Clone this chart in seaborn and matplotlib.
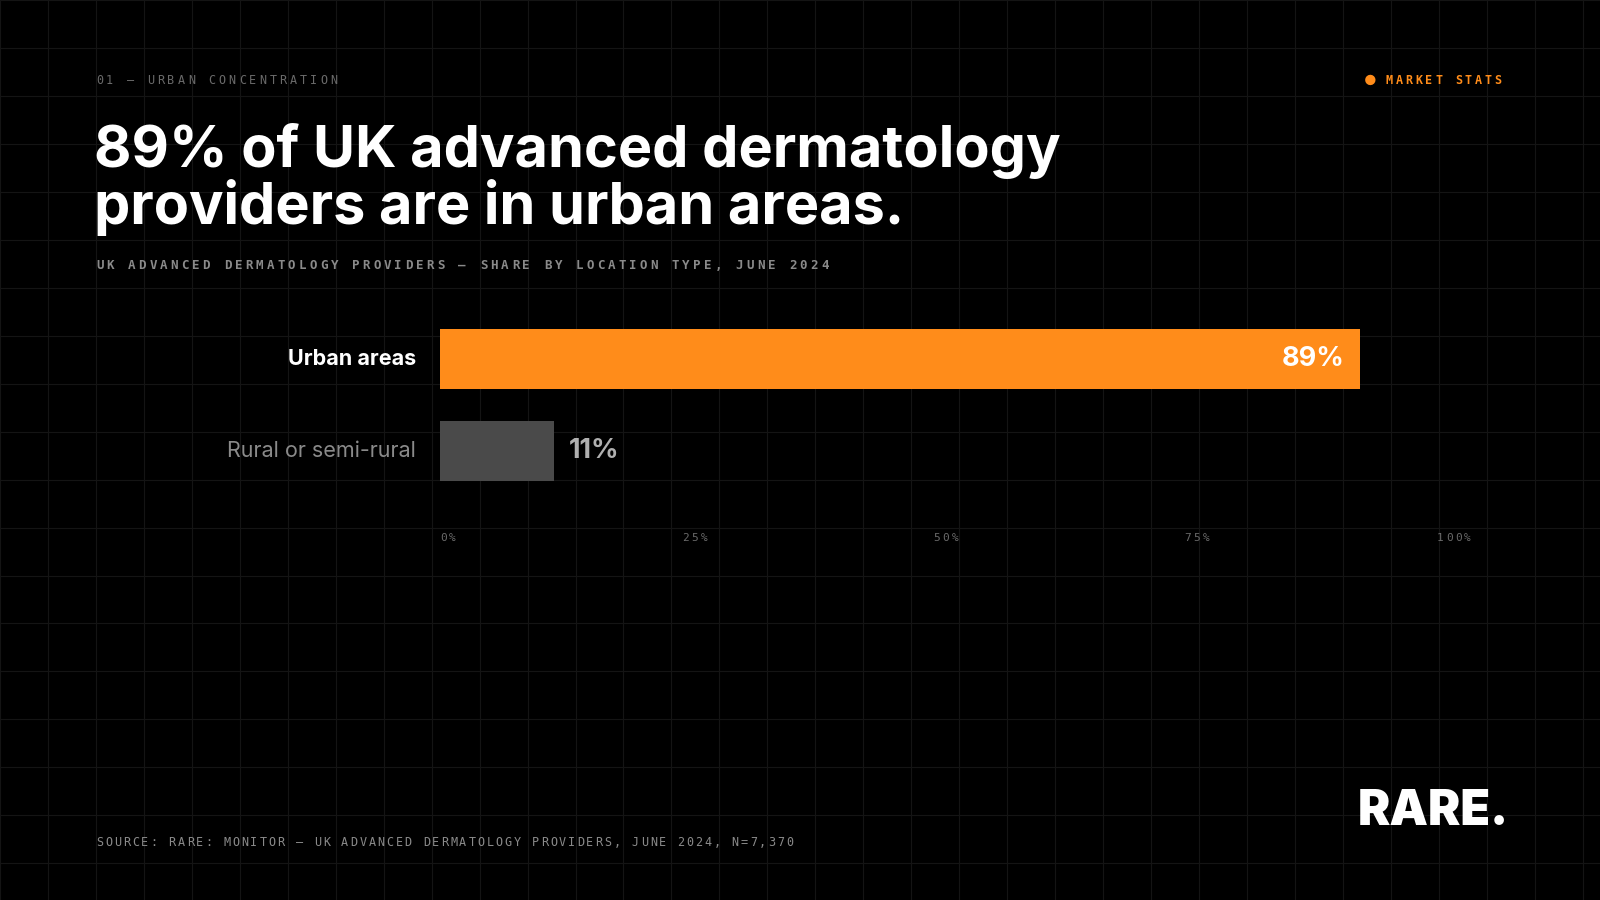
import numpy as np
import pandas as pd
import matplotlib
matplotlib.use("Agg")
import matplotlib.pyplot as plt
import seaborn as sns

categories = ["Urban areas", "Rural or semi-rural"]
shares = [89, 11]
bar_labels = ["89%", "11%"]
ticks = [0, 25, 50, 75, 100]
tick_labels = ["0%", "25%", "50%", "75%", "100%"]

sns.set_style("dark")
plt.rcParams["font.family"] = ["Inter", "DejaVu Sans"]

fig = plt.figure(figsize=(16, 9), dpi=100, facecolor="black")

W, H = 1568, 882
def fx(px): return px / W
def fy(py): return 1 - py / H

# background grid
bg = fig.add_axes([0, 0, 1, 1])
bg.set_facecolor("black")
bg.set_xlim(0, W)
bg.set_ylim(H, 0)
for gx in np.arange(0, W, 47):
    bg.axvline(gx, color="#141414", lw=0.8)
for gy in np.arange(0, H, 47):
    bg.axhline(gy, color="#141414", lw=0.8)
bg.axis("off")

mono = "DejaVu Sans Mono"

def spaced(x, y, s, step, ha="left", **kw):
    # monospace text with wide letter spacing, one glyph per cell
    if ha == "center":
        x = x - step * len(s) / 2
    for i, ch in enumerate(s):
        if ch != " ":
            bg.text(x + i * step, y, ch, family=mono, va="center", ha="left", **kw)

spaced(94, 79, "01 — URBAN CONCENTRATION", 10.0, color="#6a6a6a", fontsize=8.5)
spaced(1358, 79, "MARKET STATS", 9.7, color="#ff8c1a", fontsize=8.5, weight="bold")
bg.text(1343, 79.5, "●", color="#ff8c1a", fontsize=10, va="center", ha="center")
fig.text(fx(92), fy(176), "89% of UK advanced dermatology\nproviders are in urban areas.",
         color="white", fontsize=41.5, weight="bold", va="center", linespacing=1.0)
spaced(94, 260, "UK ADVANCED DERMATOLOGY PROVIDERS — SHARE BY LOCATION TYPE, JUNE 2024",
       10.45, color="#8a8a8a", fontsize=9, weight="bold")
spaced(94, 826, "SOURCE: RARE: MONITOR — UK ADVANCED DERMATOLOGY PROVIDERS, JUNE 2024, N=7,370",
       8.9, color="#8a8a8a", fontsize=8.5)
fig.text(fx(1331), fy(796), "RARE.", color="white", fontsize=35, weight="black", va="center")

# bars
top, bot = 307, 487
ax = fig.add_axes([fx(431), fy(bot), fx(1444) - fx(431), (bot - top) / H])
df = pd.DataFrame({"cat": categories, "share": shares})
sns.barplot(data=df, x="share", y="cat", hue="cat", palette=["#ff8c1a", "#4a4a4a"],
            order=categories, width=0.65, ax=ax, legend=False, saturation=1,
            edgecolor="none", linewidth=0)
ax.set_facecolor("none")
ax.set_xlim(0, 100)
ax.set_ylim(1.5, -0.5)
ax.set_xlabel("")
ax.set_ylabel("")
ax.set_xticks([])
ax.set_yticks([])
for s in ax.spines.values():
    s.set_visible(False)
ax.grid(False)

ax.text(shares[0] - 1.5, 0, bar_labels[0], color="white", fontsize=19.5, weight="bold",
        ha="right", va="center")
ax.text(shares[1] + 1.5, 1, bar_labels[1], color="#b0b0b0", fontsize=19.5, weight="bold",
        ha="left", va="center")
ax.text(-2.3, 0, categories[0], color="white", fontsize=15.5, weight="bold",
        ha="right", va="center")
ax.text(-2.3, 1, categories[1], color="#8a8a8a", fontsize=15.5, ha="right", va="center")

tick_pos = [440, 682, 928, 1174, 1426]
for lab, px in zip(tick_labels, tick_pos):
    spaced(px, 527, lab, 9.0, ha="center", color="#6a6a6a", fontsize=8)

fig.savefig("out.png", dpi=100, facecolor="black")
